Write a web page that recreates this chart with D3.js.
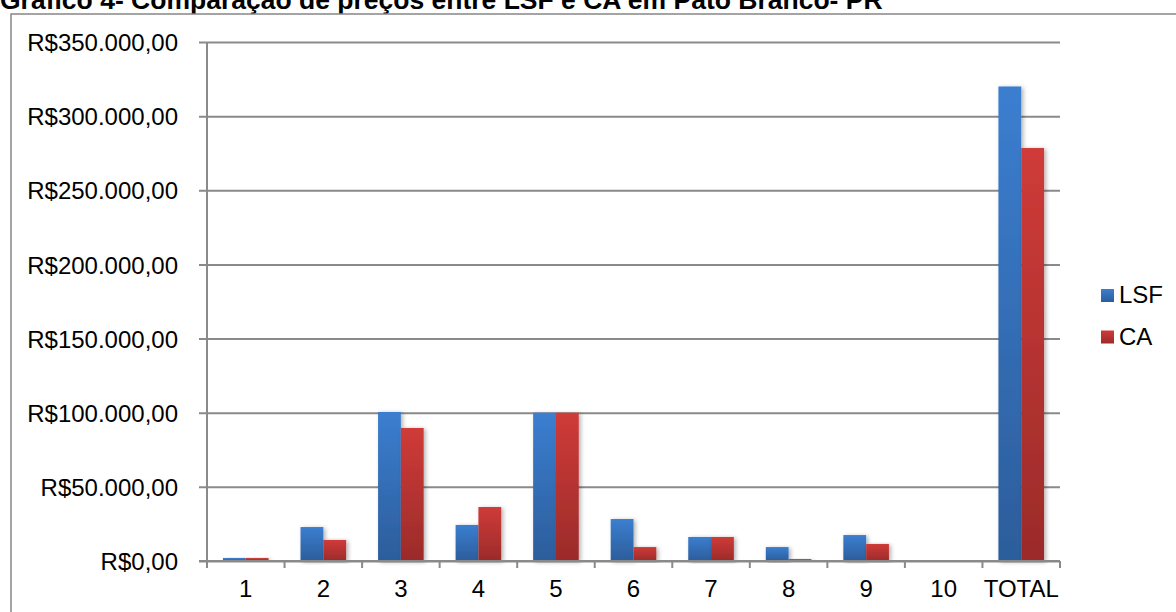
<!DOCTYPE html>
<html>
<head>
<meta charset="utf-8">
<script src="https://cdn.jsdelivr.net/npm/d3@7/dist/d3.min.js"></script>
<style>
  html, body { margin: 0; padding: 0; background: #fff; }
  svg { display: block; font-family: "Liberation Sans", Arial, sans-serif; }
</style>
</head>
<body>
<svg id="chart" width="1176" height="612"></svg>
<script>
// Price comparison, LSF vs CA, by item
const categories = ["1", "2", "3", "4", "5", "6", "7", "8", "9", "10", "TOTAL"];
const seriesNames = ["LSF", "CA"];
const lsfValues = [2000, 22900, 100500, 24300, 100000, 28300, 16200, 9400, 17500, 400, 320000];
const caValues  = [2000, 14200, 89700, 36400, 100000, 9400, 16200, 1300, 11500, 400, 278500];
const yTicks = [0, 50000, 100000, 150000, 200000, 250000, 300000, 350000];
const titleText = "Gráfico 4- Comparação de preços entre LSF e CA em Pato Branco- PR";

const svg = d3.select("#chart");
const W = 1176, H = 612;

const plot = { left: 207, right: 1060, top: 42, bottom: 561 };

const colors = {
  LSF: ["#3b7ed0", "#2c5d9b"],
  CA:  ["#cf3b38", "#9b2b2a"]
};

const defs = svg.append("defs");
seriesNames.forEach(name => {
  const g = defs.append("linearGradient")
    .attr("id", "grad-" + name)
    .attr("x1", 0).attr("y1", 0).attr("x2", 0).attr("y2", 1);
  g.append("stop").attr("offset", "0%").attr("stop-color", colors[name][0]);
  g.append("stop").attr("offset", "100%").attr("stop-color", colors[name][1]);
});
const shadow = defs.append("filter").attr("id", "barShadow")
  .attr("x", "-30%").attr("y", "-10%").attr("width", "160%").attr("height", "120%");
shadow.append("feDropShadow")
  .attr("dx", 2).attr("dy", 1).attr("stdDeviation", 2)
  .attr("flood-color", "#000").attr("flood-opacity", 0.3);

// Title (runs off the top edge of the page)
svg.append("text")
  .attr("x", 0).attr("y", 9)
  .attr("font-size", 26.5).attr("font-weight", "bold").attr("fill", "#000")
  .text(titleText);

// Chart frame
svg.append("rect")
  .attr("x", 11).attr("y", 14)
  .attr("width", W).attr("height", H)
  .attr("fill", "none").attr("stroke", "#878787").attr("stroke-width", 1.5);

const x = d3.scaleBand()
  .domain(categories)
  .range([plot.left, plot.right])
  .paddingInner(0.412)
  .paddingOuter(0.206);

const xs = d3.scaleBand()
  .domain(seriesNames)
  .range([0, x.bandwidth()]);

const y = d3.scaleLinear()
  .domain([0, 350000])
  .range([plot.bottom, plot.top]);

const locale = d3.formatLocale({
  decimal: ",", thousands: ".", grouping: [3], currency: ["R$", ""]
});
const fmt = locale.format("$,.2f");

// Gridlines with y-axis ticks
const yAxis = d3.axisLeft(y)
  .tickValues(yTicks)
  .tickSize(-(plot.right - plot.left))
  .tickPadding(29)
  .tickFormat(fmt);
const gy = svg.append("g")
  .attr("transform", `translate(${plot.left},0)`)
  .call(yAxis);
gy.select(".domain").remove();
gy.selectAll(".tick line")
  .attr("x1", -8)
  .attr("stroke", "#8a8a8a").attr("stroke-width", 2);
gy.selectAll(".tick text")
  .attr("font-size", 24).attr("fill", "#000")
  .attr("font-family", "Liberation Sans, Arial, sans-serif")
  .attr("dy", "0.36em");

// Bars
const rows = categories.map((c, i) => ({ cat: c, LSF: lsfValues[i], CA: caValues[i] }));
const groups = svg.append("g").selectAll("g")
  .data(rows).join("g")
  .attr("transform", d => `translate(${x(d.cat)},0)`);
groups.selectAll("rect")
  .data(d => seriesNames.map(s => ({ s, v: d[s] })))
  .join("rect")
  .attr("x", d => xs(d.s))
  .attr("width", xs.bandwidth())
  .attr("y", d => y(d.v))
  .attr("height", d => y(0) - y(d.v))
  .attr("fill", d => `url(#grad-${d.s})`)
  .attr("filter", "url(#barShadow)");

// Vertical axis line
svg.append("line")
  .attr("x1", plot.left).attr("x2", plot.left)
  .attr("y1", plot.top).attr("y2", plot.bottom)
  .attr("stroke", "#8a8a8a").attr("stroke-width", 2);

// Category axis
const xAxis = d3.axisBottom(x).tickSize(0).tickPadding(0);
const gx = svg.append("g")
  .attr("transform", `translate(0,${plot.bottom})`)
  .call(xAxis);
gx.select(".domain").remove();
gx.selectAll(".tick text")
  .attr("font-size", 24).attr("fill", "#000")
  .attr("font-family", "Liberation Sans, Arial, sans-serif")
  .attr("y", 36).attr("dy", 0);

svg.append("line")
  .attr("x1", plot.left - 8).attr("x2", plot.right)
  .attr("y1", plot.bottom).attr("y2", plot.bottom)
  .attr("stroke", "#8a8a8a").attr("stroke-width", 2);

const step = x.step();
const boundaries = d3.range(categories.length + 1).map(i => plot.left + i * step);
svg.append("g").selectAll("line")
  .data(boundaries).join("line")
  .attr("x1", d => d).attr("x2", d => d)
  .attr("y1", plot.bottom).attr("y2", plot.bottom + 7)
  .attr("stroke", "#8a8a8a").attr("stroke-width", 2);

// Legend
const legend = svg.append("g").selectAll("g")
  .data(seriesNames).join("g")
  .attr("transform", (d, i) => `translate(1101,${289 + i * 41.5})`);
legend.append("rect")
  .attr("width", 13).attr("height", 13)
  .attr("fill", d => `url(#grad-${d})`);
legend.append("text")
  .attr("x", 18).attr("y", 14)
  .attr("font-size", 24).attr("fill", "#000")
  .text(d => d);
</script>
</body>
</html>
